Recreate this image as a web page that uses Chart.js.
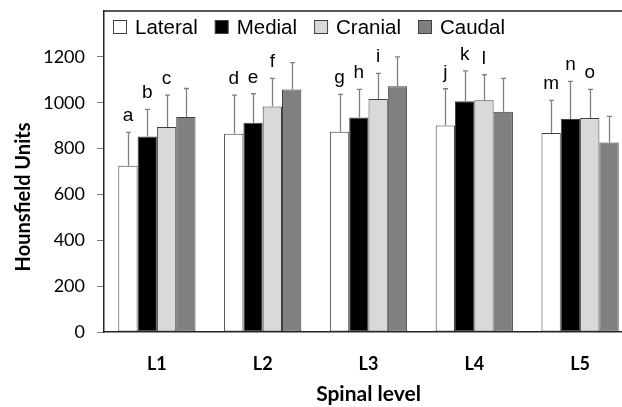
<!DOCTYPE html>
<html>
<head>
<meta charset="utf-8">
<script src="https://cdn.jsdelivr.net/npm/chart.js@4/dist/chart.umd.min.js"></script>
<style>
  html, body { margin: 0; padding: 0; overflow: hidden; background: #fff; }
  #wrap { width: 640px; height: 407px; position: relative; }
</style>
</head>
<body>
<div id="wrap"><canvas id="c" width="640" height="407"></canvas></div>
<script>
const categories = ['L1', 'L2', 'L3', 'L4', 'L5'];
const seriesNames = ['Lateral', 'Medial', 'Cranial', 'Caudal'];
const lateral = [725, 865, 873, 901, 868];
const medial  = [853, 913, 936, 1006, 929];
const cranial = [894, 983, 1016, 1011, 933];
const caudal  = [938, 1058, 1072, 961, 826];
const lateralSD = [146, 168, 163, 160, 142];
const medialSD  = [118, 126, 122, 133, 164];
const cranialSD = [139, 123, 112, 111, 125];
const caudalSD  = [124, 117, 128, 145, 114];
const lateralLetters = ['a', 'd', 'g', 'j', 'm'];
const medialLetters  = ['b', 'e', 'h', 'k', 'n'];
const cranialLetters = ['c', 'f', 'i', 'l', 'o'];
const caudalLetters  = ['', '', '', '', ''];
const yTicks = [0, 200, 400, 600, 800, 1000, 1200, 1400];

const fills = ['#ffffff', '#000000', '#d9d9d9', '#808080'];
const values = [lateral, medial, cranial, caudal];
const sds = [lateralSD, medialSD, cranialSD, caudalSD];
const letters = [lateralLetters, medialLetters, cranialLetters, caudalLetters];

const datasets = seriesNames.map((n, i) => ({
  label: n,
  data: values[i],
  sd: sds[i],
  letters: letters[i],
  backgroundColor: fills[i],
  borderColor: '#404040',
  borderWidth: 1,
  borderSkipped: false,
  categoryPercentage: 0.73,
  barPercentage: 1.0
}));

const extras = {
  id: 'extras',
  afterDatasetsDraw(chart) {
    const ctx = chart.ctx;
    const y = chart.scales.y;
    chart.data.datasets.forEach((ds, di) => {
      const meta = chart.getDatasetMeta(di);
      meta.data.forEach((bar, i) => {
        const top = y.getPixelForValue(ds.data[i] + ds.sd[i]);
        const x = Math.round(bar.x) + 0.5;
        ctx.save();
        ctx.strokeStyle = '#808080';
        ctx.lineWidth = 1.3;
        ctx.beginPath();
        ctx.moveTo(x, bar.y);
        ctx.lineTo(x, top);
        ctx.moveTo(x - 2.5, top);
        ctx.lineTo(x + 2.5, top);
        ctx.stroke();
        if (ds.letters[i]) {
          ctx.fillStyle = '#000';
          ctx.font = '19px "Liberation Sans", Arial, sans-serif';
          ctx.textAlign = 'center';
          ctx.textBaseline = 'alphabetic';
          ctx.fillText(ds.letters[i], bar.x, top - 11);
        }
        ctx.restore();
      });
    });
  },
  afterDraw(chart) {
    const ctx = chart.ctx;
    const a = chart.chartArea;
    ctx.save();
    ctx.strokeStyle = '#222';
    ctx.lineWidth = 1.5;
    ctx.beginPath();
    ctx.moveTo(a.left, a.top);
    ctx.lineTo(a.right, a.top);
    ctx.lineTo(a.right, a.bottom);
    ctx.stroke();
    // legend inside plot area
    ctx.font = '20.5px "Liberation Sans", Arial, sans-serif';
    ctx.textBaseline = 'middle';
    ctx.textAlign = 'left';
    let lx = a.left + 9;
    const ly = a.top + 9;
    chart.data.datasets.forEach(ds => {
      ctx.fillStyle = ds.backgroundColor;
      ctx.fillRect(lx + 0.5, ly + 0.5, 13, 13);
      ctx.strokeStyle = '#404040';
      ctx.lineWidth = 1;
      ctx.strokeRect(lx + 0.5, ly + 0.5, 13, 13);
      ctx.fillStyle = '#000';
      ctx.fillText(ds.label, lx + 22, ly + 8);
      lx += 22 + ctx.measureText(ds.label).width + 17;
    });
    // y axis title
    ctx.translate(24, 197);
    ctx.rotate(-Math.PI / 2);
    ctx.fillStyle = '#000';
    ctx.font = 'bold 20px Lato, "Open Sans", sans-serif';
    ctx.textAlign = 'center';
    ctx.textBaseline = 'middle';
    ctx.fillText('Hounsfield Units', 0, 0);
    ctx.restore();
  }
};

new Chart(document.getElementById('c'), {
  type: 'bar',
  data: { labels: categories, datasets },
  plugins: [extras],
  options: {
    responsive: false,
    animation: false,
    layout: { padding: { top: 0, right: 7, left: 0, bottom: 0 } },
    plugins: {
      tooltip: { enabled: false },
      legend: { display: false }
    },
    scales: {
      x: {
        grid: { display: false, drawTicks: false },
        border: { display: true, color: '#222', width: 1.5 },
        ticks: {
          padding: 21,
          color: '#000',
          font: { family: 'Lato, sans-serif', size: 18, weight: 'bold' }
        },
        title: {
          display: true,
          text: 'Spinal level',
          color: '#000',
          padding: { top: 5, bottom: 0 },
          font: { family: 'Lato, sans-serif', size: 21, weight: 'bold' }
        },
        afterFit(s) { s.height = 75; }
      },
      y: {
        min: 0,
        max: 1400,
        afterBuildTicks(s) { s.ticks = yTicks.map(v => ({ value: v })); },
        grid: {
          drawOnChartArea: false,
          drawTicks: true,
          tickLength: 7,
          tickColor: c => (c.tick && c.tick.value === 1400) ? 'rgba(0,0,0,0)' : '#808080'
        },
        border: { display: true, color: '#222', width: 1.5 },
        ticks: {
          padding: 12,
          color: '#000',
          font: { family: 'Lato, sans-serif', size: 18 },
          callback: v => (v === 1400 ? '' : String(v))
        },
        afterFit(s) { s.width = 104; s.paddingTop = 11; s.paddingBottom = 0; }
      }
    }
  }
});
</script>
</body>
</html>
